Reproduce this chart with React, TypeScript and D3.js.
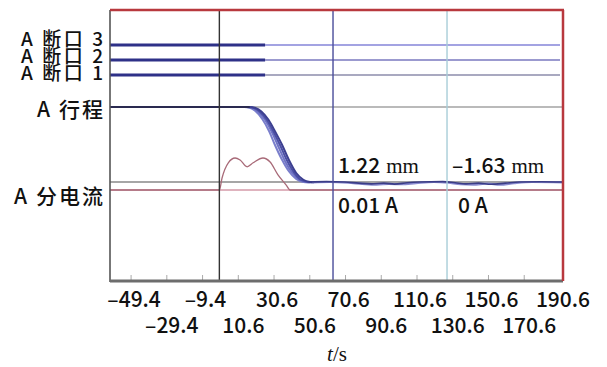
import * as d3 from 'd3';

// time axis (s)
const timeTicks = [-49.4, -29.4, -9.4, 10.6, 30.6, 50.6, 70.6, 90.6, 110.6, 130.6, 150.6, 170.6, 190.6];
const timeDomain: [number, number] = [-61.2, 192.3];

// breaker contacts: channel labels and opening times (s)
const contactLabels = ['A 断口 3', 'A 断口 2', 'A 断口 1'];
const contactOpenTimes = [25.6, 25.6, 25.6];

// stroke traces, [t (s), travel (%)]
const strokeTrace1: [number, number][] = [
  [-61.2, 100], [14, 100], [17, 99], [20, 95], [24, 84], [28, 67], [31, 50], [35, 30], [39, 14], [43, 4], [47, 0], [50, -0.5],
];
const strokeTrace2: [number, number][] = [
  [-61.2, 100], [15, 100], [18.5, 99], [21.5, 94], [25.5, 83], [29.5, 66], [32.5, 50], [36.5, 29], [40.5, 13], [44.5, 3.5], [48.5, 0], [51, -0.5],
];
const strokeTrace3: [number, number][] = [
  [-61.2, 100], [16, 100], [19.5, 98.5], [22.5, 94], [26.5, 83], [30.5, 66], [33.8, 50], [37.8, 29], [41.8, 12.5], [45.5, 3], [49.5, 0], [52, -0.5],
];
const strokeTrace4: [number, number][] = [
  [-61.2, 100], [17, 100], [20.5, 98.5], [23.5, 94], [27.5, 83], [31.5, 66], [35, 50], [39, 29], [43, 12], [47, 3], [51, 0], [53, -0.5],
];
// settled stroke after the opening, [t, %]
const strokeTailA: [number, number][] = [
  [50, 0], [60, 0.5], [70, 0], [78, -1.5], [85, -2.5], [92, -1.5], [98, -2.8], [105, -1], [112, 0], [125, 0.5],
  [132, -1], [138, -2.5], [145, -1.5], [152, -3], [160, -1.5], [168, 0], [180, 0.3], [192.3, 0],
];
const strokeTailB: [number, number][] = [
  [52, -0.5], [62, 0], [72, -1], [80, -2.5], [88, -3.5], [95, -2.5], [102, -3], [110, -1.5], [120, 0], [128, -1],
  [135, -3], [142, -3.5], [150, -2], [157, -3.5], [165, -1.5], [175, 0], [192.3, -0.5],
];

// coil current trace, [t (s), A]
const currentTrace: [number, number][] = [
  [-61.2, 0], [0, 0], [1.5, 0.3], [5, 0.68], [8.8, 0.8], [11.6, 0.75], [15.5, 0.58], [18.9, 0.68],
  [24.4, 0.8], [28.4, 0.7], [32.8, 0.38], [37.3, 0.13], [39.6, 0], [192.3, 0],
];

// cursors and readouts
const triggerTime = 0;
const cursorTimes = [63.6, 127.4];
const cursorStroke = ['1.22', '–1.63'];
const cursorCurrent = ['0.01 A', '0 A'];

const W = 607;
const H = 367;
const left = 110;
const right = 563;
const top = 10;
const bottom = 281;

const font = "'Noto Sans CJK SC', 'Noto Sans', sans-serif";

export default function App() {
  const x = d3.scaleLinear().domain(timeDomain).range([left, right]);
  const yStroke = d3.scaleLinear().domain([0, 100]).range([182, 107]);
  const yCurrent = d3.scaleLinear().domain([0, 1]).range([190, 150]);
  const contactY = [45, 60, 75];

  const strokeLine = d3
    .line<[number, number]>()
    .x((d) => x(d[0]))
    .y((d) => yStroke(d[1]))
    .curve(d3.curveMonotoneX);
  const currentLine = d3
    .line<[number, number]>()
    .x((d) => x(d[0]))
    .y((d) => yCurrent(d[1]))
    .curve(d3.curveMonotoneX);

  const contactRight = ['#a3a3e2', '#7a78bf', '#8d8dab'];
  const strokeColors = ['#7a7fcc', '#6f73c4', '#4b4fa6', '#3c3f90'];

  return (
    <svg width={W} height={H} style={{ position: 'absolute', left: 0, top: 0, background: '#fff' }}>
      <rect x={0} y={0} width={W} height={H} fill="#fff" />

      {/* reference lines */}
      <line x1={left} x2={right} y1={yStroke(100)} y2={yStroke(100)} stroke="#777" strokeWidth={1.2} />
      <line x1={left} x2={right} y1={yStroke(0)} y2={yStroke(0)} stroke="#888" strokeWidth={1.4} />
      <line x1={left} x2={right} y1={yCurrent(0)} y2={yCurrent(0)} stroke="#d49aa8" strokeWidth={1.3} />

      {/* contacts */}
      {contactOpenTimes.map((t, i) => (
        <g key={i}>
          <line x1={x(t)} x2={right - 3} y1={contactY[i]} y2={contactY[i]} stroke={contactRight[i]} strokeWidth={i === 0 ? 2.2 : 1.6} />
          <line x1={left} x2={x(t)} y1={contactY[i]} y2={contactY[i]} stroke="#2e3188" strokeWidth={3} />
        </g>
      ))}

      {/* current */}
      <path d={currentLine(currentTrace) ?? ''} fill="none" stroke="#a86a78" strokeWidth={1.3} />

      {/* stroke */}
      {[strokeTrace1, strokeTrace2, strokeTrace3, strokeTrace4].map((tr, i) => (
        <path key={i} d={strokeLine(tr) ?? ''} fill="none" stroke={strokeColors[i]} strokeWidth={2} />
      ))}
      <path d={strokeLine(strokeTrace4.slice(0, 2)) ?? ''} fill="none" stroke="#2a2a50" strokeWidth={1.8} />
      <path d={strokeLine(strokeTailB) ?? ''} fill="none" stroke="#8a8cd0" strokeWidth={2.2} />
      <path d={strokeLine(strokeTailA) ?? ''} fill="none" stroke="#3b3d86" strokeWidth={1.6} />

      {/* cursors */}
      <line x1={x(triggerTime)} x2={x(triggerTime)} y1={top} y2={bottom} stroke="#333" strokeWidth={1.4} />
      <line x1={x(cursorTimes[0])} x2={x(cursorTimes[0])} y1={top} y2={bottom} stroke="#4a4c9a" strokeWidth={1.4} />
      <line x1={x(cursorTimes[1])} x2={x(cursorTimes[1])} y1={top} y2={bottom} stroke="#a8cdd8" strokeWidth={1.4} />

      {/* inner ticks */}
      {timeTicks.slice(0, -1).map((t) => (
        <line key={t} x1={x(t)} x2={x(t)} y1={bottom - 6} y2={bottom} stroke="#aaa" strokeWidth={1} />
      ))}

      {/* frame */}
      <line x1={left} x2={left} y1={top} y2={bottom + 1} stroke="#555" strokeWidth={1.6} />
      <line x1={left} x2={right} y1={bottom} y2={bottom} stroke="#6d6d6d" strokeWidth={3} />
      <line x1={left} x2={right + 1} y1={top} y2={top} stroke="#b8383e" strokeWidth={2.5} />
      <line x1={right} x2={right} y1={top} y2={bottom} stroke="#b8383e" strokeWidth={2.5} />

      {/* channel labels */}
      <g fontFamily={font} textAnchor="end" fill="#111" fontWeight={500}>
        {contactLabels.map((s, i) => (
          <text key={s} x={103} y={46 + i * 17} fontSize={19} textLength={82} lengthAdjust="spacing">{s}</text>
        ))}
        <text x={103} y={117} fontSize={21} textLength={66} lengthAdjust="spacing">A 行程</text>
        <text x={103} y={204} fontSize={21} textLength={89} lengthAdjust="spacing">A 分电流</text>
      </g>

      {/* readouts */}
      {cursorTimes.map((t, i) => (
        <g key={t} fontFamily={font} fontSize={21} fontWeight={500} fill="#111">
          <text x={x(t) + 5} y={173}>
            {cursorStroke[i]}
            <tspan fontFamily="'Liberation Serif', serif" fontWeight={400} dx={6}>mm</tspan>
          </text>
          <text x={x(t) + (i === 0 ? 5 : 11)} y={213}>{cursorCurrent[i]}</text>
        </g>
      ))}

      {/* time axis labels */}
      <g fontFamily={font} fontSize={21} fontWeight={500} textAnchor="middle" fill="#111">
        {timeTicks.map((t, i) => (
          <text key={t} x={x(t) + (i % 2 === 0 ? 3 : 5)} y={i % 2 === 0 ? 307 : 333}>
            {t < 0 ? '–' + Math.abs(t) : String(t)}
          </text>
        ))}
      </g>
      <text x={337} y={361} fontFamily="'Liberation Serif', serif" fontSize={21} textAnchor="middle" fill="#111">
        <tspan fontStyle="italic">t</tspan>/s
      </text>
    </svg>
  );
}
